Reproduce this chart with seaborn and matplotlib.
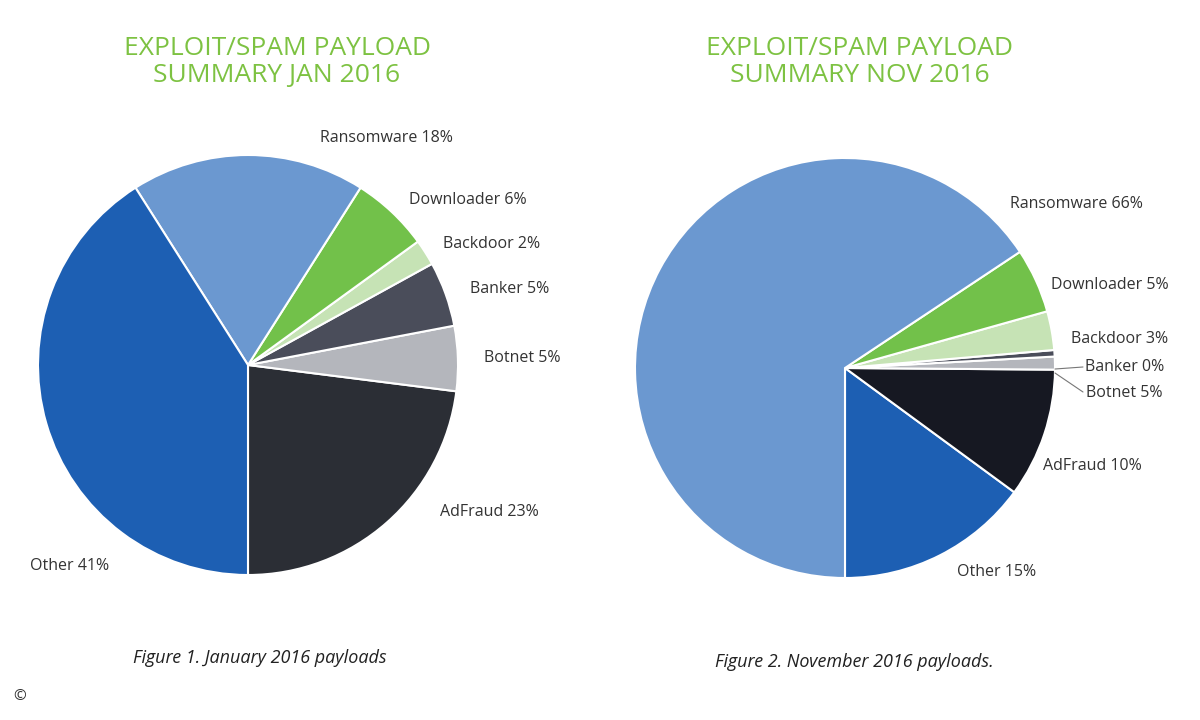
import matplotlib
matplotlib.use("Agg")
import matplotlib.pyplot as plt
import seaborn as sns

sns.set_theme(style="white", rc={"font.family": "Open Sans"})

# order: counterclockwise from the bottom
cats = ["AdFraud", "Botnet", "Banker", "Backdoor", "Downloader", "Ransomware", "Other"]
jan_sizes = [23, 5, 5, 2, 6, 18, 41]
jan_labels = ["AdFraud 23%", "Botnet 5%", "Banker 5%", "Backdoor 2%", "Downloader 6%", "Ransomware 18%", "Other 41%"]
cats_nov = ["Other", "AdFraud", "Botnet", "Banker", "Backdoor", "Downloader", "Ransomware"]
nov_sizes = [15, 10, 1, 0.5, 3, 5, 66]
nov_labels = ["Other 15%", "AdFraud 10%", "Botnet 5%", "Banker 0%", "Backdoor 3%", "Downloader 5%", "Ransomware 66%"]

colors = {"Other": "#1d5fb3", "Ransomware": "#6b98d0", "Downloader": "#72c14a",
          "Backdoor": "#c6e3b5", "Banker": "#4a4d5a", "Botnet": "#b4b6bc", "AdFraud": "#2b2e35"}
green = "#7dc242"

fig = plt.figure(figsize=(12, 7.2), dpi=100)
W, H = 1200, 720

def pie(cx, cy, r, sizes, cnames, labels, start, label_pos, dark):
    ax = fig.add_axes([(cx - r) / W, (H - cy - r) / H, 2 * r / W, 2 * r / H])
    cols = [colors[c] if c != "AdFraud" else dark for c in cnames]
    ax.pie(sizes, colors=cols, startangle=start, counterclock=True,
           wedgeprops=dict(edgecolor="white", linewidth=1.5))
    ax.set_xlim(-1, 1); ax.set_ylim(-1, 1)
    for lab, (x, y) in zip(labels, label_pos):
        fig.text(x / W, 1 - y / H, lab, fontsize=11.5, color="#333333", ha="left", va="center")
    return ax

pie(248, 365, 210, jan_sizes, cats, jan_labels, 270,
    [(440, 512), (484, 358), (470, 289), (443, 244), (409, 200), (320, 138), (30, 566)], "#2b2e35")
pie(845, 368, 210, nov_sizes, cats_nov, nov_labels, 270,
    [(957, 572), (1043, 466), (1086, 393), (1085, 367), (1071, 339), (1051, 285), (1010, 204)], "#161822")

# leader lines for tiny slices on the right pie
fig.lines.append(plt.Line2D([1055 / W, 1083 / W], [1 - 369 / H, 1 - 367 / H], transform=fig.transFigure, color="#777777", lw=0.8))
fig.lines.append(plt.Line2D([1055 / W, 1083 / W], [1 - 373 / H, 1 - 392 / H], transform=fig.transFigure, color="#777777", lw=0.8))

for x, t in [(277, "EXPLOIT/SPAM PAYLOAD\nSUMMARY JAN 2016"), (860, "EXPLOIT/SPAM PAYLOAD\nSUMMARY NOV 2016")]:
    fig.text(x / W, 1 - 62 / H, t, fontsize=19, color=green, ha="center", va="center", linespacing=1.1)

fig.text(260 / W, 1 - 658 / H, "Figure 1. January 2016 payloads", fontsize=13, style="italic", color="#222222", ha="center", va="center")
fig.text(854 / W, 1 - 662 / H, "Figure 2. November 2016 payloads.", fontsize=13, style="italic", color="#222222", ha="center", va="center")
fig.text(20 / W, 1 - 697 / H, "©", fontsize=11, color="#333333", ha="center", va="center")

fig.savefig("out.png", dpi=100, facecolor="white")
